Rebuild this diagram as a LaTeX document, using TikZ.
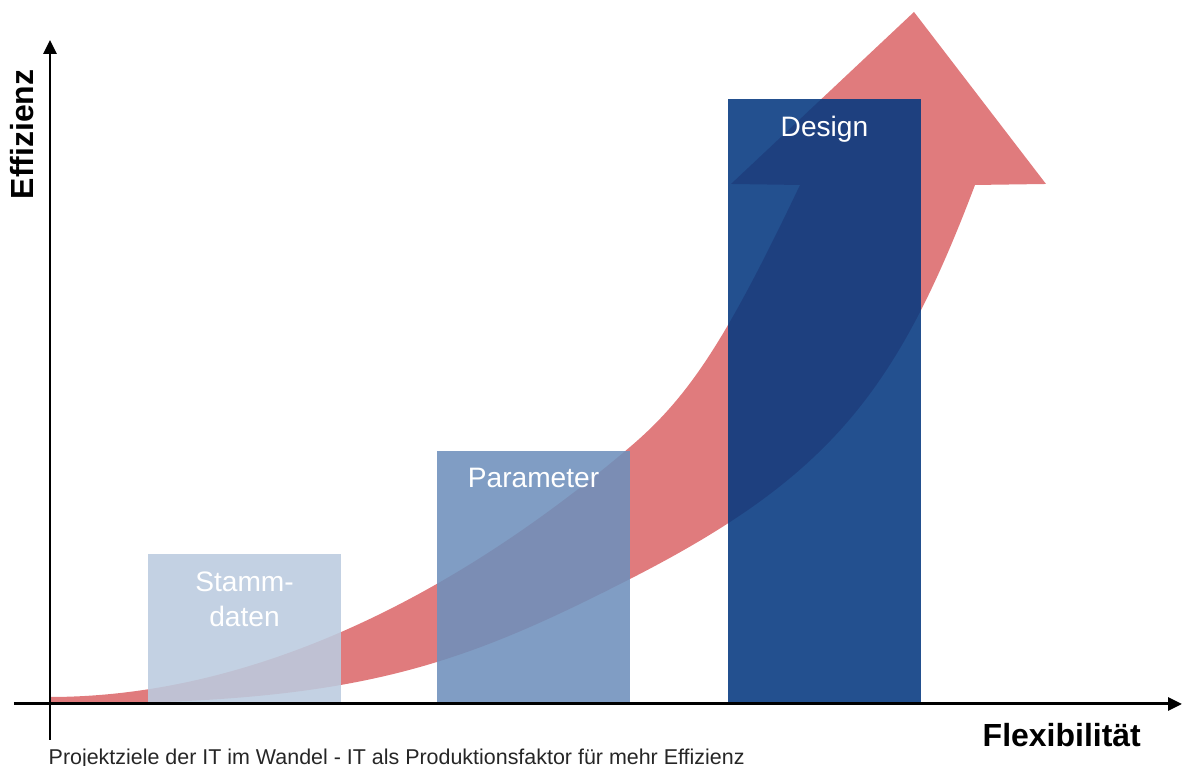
\documentclass[tikz,border=0pt]{standalone}
\usepackage{fontspec}
\setmainfont{Liberation Sans}
\usetikzlibrary{arrows.meta,positioning}

\definecolor{trendred}{RGB}{224,123,125}
\definecolor{stammblue}{RGB}{187,203,223}
\definecolor{paramblue}{RGB}{110,144,188}
\definecolor{designblue}{RGB}{4,56,128}

\tikzset{
  bar/.style={draw=none, fill opacity=0.88, inner sep=0pt, outer sep=0pt,
    minimum width=1.93cm, anchor=south west},
  barlabel/.style={text=white, inner sep=0pt, align=center,
    font=\fontsize{8}{10}\selectfont},
  axis/.style={line width=0.85pt, -{Triangle[length=1.4mm, width=1.3mm]}},
  axislabel/.style={inner sep=0pt, font=\fontsize{9.1}{11}\selectfont\bfseries},
  caption/.style={inner sep=0pt, text=black!85, font=\fontsize{6.1}{7}\selectfont},
}

\begin{document}
\begin{tikzpicture}
  \useasboundingbox (0,0) rectangle (11.83,7.66);

  % growth arrow behind the bars
  \fill[trendred] (0.50,0.62)
    .. controls (3.50,0.62) and (4.50,0.95) .. (6.30,1.87)
    .. controls (8.30,2.89) and (8.97,3.75) .. (9.75,5.81)
    -- (10.46,5.82) -- (9.14,7.54) -- (7.31,5.82) -- (8.00,5.81)
    .. controls (7.27,4.28) and (6.90,3.70) .. (6.30,3.19)
    .. controls (4.30,1.49) and (2.30,0.69) .. (0.50,0.69)
    -- cycle;

  % bars
  \node[bar, fill=stammblue,  minimum height=1.50cm] (stamm)  at (1.48,0.62) {};
  \node[bar, fill=paramblue,  minimum height=2.53cm] (param)  at (4.37,0.62) {};
  \node[bar, fill=designblue, minimum height=6.05cm] (design) at (7.28,0.62) {};

  \node[barlabel, below=0.17cm of stamm.north]  (stammtext)  {Stamm-\\daten};
  \node[barlabel, below=0.16cm of param.north]  (paramtext)  {Parameter};
  \node[barlabel, below=0.16cm of design.north] (designtext) {Design};

  % axes
  \coordinate (xstart) at (0.14,0.62);
  \coordinate (xend)   at (11.82,0.62);
  \coordinate (ystart) at (0.50,0.26);
  \coordinate (yend)   at (0.50,7.26);
  \draw[axis] (xstart) -- (xend);
  \draw[axis] (ystart) -- (yend);

  \node[axislabel, anchor=base west] (xlabel) at (9.82,0.19) {Flexibilität};
  \node[axislabel, anchor=base west, rotate=90] (ylabel) at (0.33,5.66) {Effizienz};

  \node[caption, anchor=base west] (caption) at (0.48,0.015)
    {Projektziele der IT im Wandel - IT als Produktionsfaktor für mehr Effizienz};
\end{tikzpicture}
\end{document}
